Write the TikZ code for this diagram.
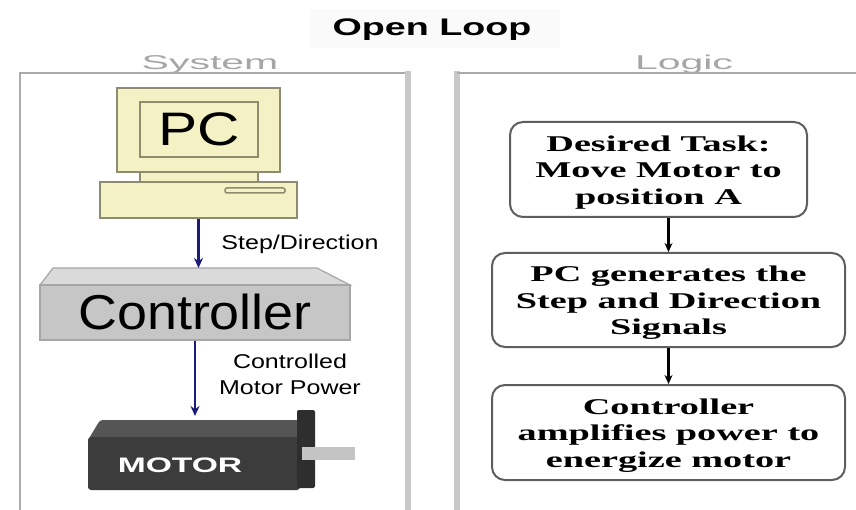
\documentclass[tikz,border=0pt]{standalone}
\usepackage{fontspec}
\setmainfont{Liberation Serif}
\setsansfont{Liberation Sans}
\usepackage{tikz}
\usetikzlibrary{arrows.meta,positioning}

\definecolor{panelgray}{HTML}{C8C8C8}
\definecolor{framegray}{HTML}{ABABAB}
\definecolor{headgray}{HTML}{A6A6A6}
\definecolor{pcyellow}{HTML}{F4F1C4}
\definecolor{pcline}{HTML}{8E8C70}
\definecolor{ctrlfront}{HTML}{C6C6C6}
\definecolor{ctrltopc}{HTML}{DADADA}
\definecolor{motorfront}{HTML}{3C3C3C}
\definecolor{motortopc}{HTML}{555555}
\definecolor{motorcap}{HTML}{2E2E2E}
\definecolor{shaftgray}{HTML}{C4C4C4}
\definecolor{signavy}{HTML}{1C1C78}
\definecolor{boxgray}{HTML}{5E5E5E}

\newcommand{\stretchx}[2]{\raisebox{-.13em}[\height][\depth]{\scalebox{#1}[1]{\begin{tabular}{@{}c@{}}#2\end{tabular}}}}

\begin{document}
\begin{tikzpicture}[
  x=1pt, y=-1pt,
  font=\sffamily,
  head/.style={text=headgray, font=\sffamily\fontsize{20}{24}\selectfont, inner sep=0pt},
  lbl/.style={font=\sffamily\fontsize{20}{26}\selectfont, inner sep=0pt},
  pcpart/.style={draw=pcline, fill=pcyellow, line width=1.5pt},
  stepbox/.style={draw=boxgray, line width=2pt, rounded corners=13pt, inner sep=0pt,
    font=\rmfamily\bfseries\fontsize{22.5}{26.5}\selectfont},
  sig/.style={-{Stealth[length=10pt, width=9pt]}, draw=signavy, line width=2.6pt},
  flow/.style={-{Stealth[length=9pt, width=8pt]}, line width=2.2pt}
]
\useasboundingbox (0,0) rectangle (856,510);

\fill[gray!4] (310,10) rectangle (560,48);
\node[inner sep=0pt, font=\sffamily\bfseries\fontsize{24}{28}\selectfont] (title) at (432,27) {\stretchx{1.57}{Open Loop}};
\node[head] (system) at (210,62) {\stretchx{2.05}{System}};
\node[head] (logic) at (684,62) {\stretchx{2.05}{Logic}};

\draw[framegray, line width=2.5pt] (20,510) -- (20,73) -- (408,73);
\draw[panelgray, line width=6pt] (408,71) -- (408,510);
\draw[panelgray, line width=6pt] (457,71) -- (457,510);
\draw[framegray, line width=2.5pt] (457,73) -- (856,73);

\draw[pcpart] (140,170) rectangle (258,182);
\node[pcpart, minimum width=163pt, minimum height=84pt] (monitor) at (198.5,130) {};
\node[pcpart, minimum width=118pt, minimum height=55pt, inner sep=0pt,
  font=\sffamily\fontsize{47}{50}\selectfont] (screen) at (199,129.5) {\stretchx{1.25}{PC}};
\node[pcpart, minimum width=197pt, minimum height=36pt] (pcbase) at (198.5,200) {};
\draw[pcpart, rounded corners=2pt] (225,188) rectangle (285,193);

\draw[draw=gray!70, fill=ctrltopc, line width=1.2pt] (53,268) -- (317,268) -- (350,285) -- (40,285) -- cycle;
\node[draw=gray!70, fill=ctrlfront, line width=1.2pt, minimum width=310pt, minimum height=55pt, inner sep=0pt,
  font=\sffamily\fontsize{49}{52}\selectfont] (ctrl) at (195,312.5) {\stretchx{1.1}{Controller}};
\coordinate (ctrltop) at (195,268);

\fill[motortopc, rounded corners=3pt] (88,440) -- (100,420) -- (299,420) -- (299,440) -- cycle;
\node[fill=motorfront, rounded corners=3pt, minimum width=212pt, minimum height=53pt] (motor) at (194,463.5) {};
\fill[motorcap, rounded corners=2pt] (297,410) rectangle (315,488);
\fill[shaftgray] (302,447) rectangle (355,460);
\node[text=white, inner sep=0pt, font=\sffamily\bfseries\fontsize{21}{24}\selectfont] (motorlbl) at (180,465) {\stretchx{1.6}{MOTOR}};
\coordinate (motorin) at (195,416);

\draw[sig] (pcbase.south) -- (pcbase.south |- ctrltop);
\draw[sig] (ctrl.south) -- (ctrl.south |- motorin);
\node[lbl] (steplbl) at (300,242) {\stretchx{1.25}{Step/Direction}};
\node[lbl] (powerlbl) at (290,374) {\stretchx{1.25}{Controlled\\Motor Power}};

\node[stepbox, minimum width=297pt, minimum height=95pt] (task) at (658.5,169.5)
  {\stretchx{1.7}{Desired Task:\\Move Motor to\\position A}};
\node[stepbox, minimum width=353pt, minimum height=94pt] (signals) at (668.5,300)
  {\stretchx{1.7}{PC generates the\\Step and Direction\\Signals}};
\node[stepbox, minimum width=353pt, minimum height=95pt] (amplify) at (668.5,432.5)
  {\stretchx{1.7}{Controller\\amplifies power to\\energize motor}};

\draw[flow] (signals.north |- task.south) -- (signals.north);
\draw[flow] (signals.south) -- (amplify.north);
\end{tikzpicture}
\end{document}
